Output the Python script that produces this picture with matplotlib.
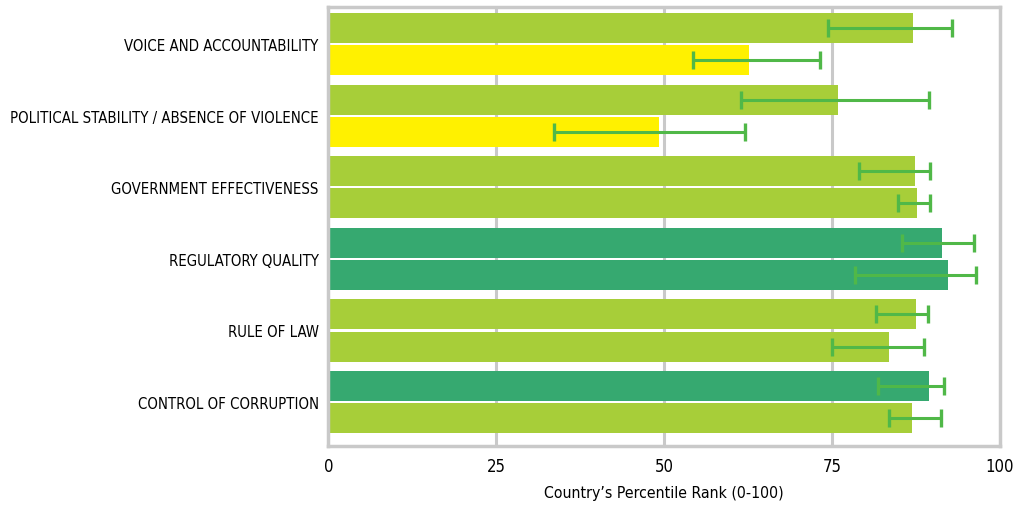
import numpy as np
import matplotlib
matplotlib.use('Agg')
import matplotlib.pyplot as plt

plt.rcParams['font.family'] = ['DejaVu Sans']
plt.rcParams['font.stretch'] = 'condensed'

categories = ['VOICE AND ACCOUNTABILITY', 'POLITICAL STABILITY / ABSENCE OF VIOLENCE',
              'GOVERNMENT EFFECTIVENESS', 'REGULATORY QUALITY', 'RULE OF LAW',
              'CONTROL OF CORRUPTION']

# upper bar of each pair
rank_a = [87.0, 75.9, 87.3, 91.4, 87.5, 89.4]
low_a = [74.4, 61.4, 79.0, 85.4, 81.5, 81.8]
high_a = [92.9, 89.4, 89.6, 96.1, 89.3, 91.7]
color_a = ['lime', 'lime', 'lime', 'green', 'lime', 'green']

# lower bar of each pair
rank_b = [62.6, 49.2, 87.6, 92.3, 83.5, 86.9]
low_b = [54.3, 33.6, 84.8, 78.4, 75.0, 83.5]
high_b = [73.2, 62.0, 89.6, 96.4, 88.7, 91.2]
color_b = ['yellow', 'yellow', 'lime', 'green', 'lime', 'lime']

xticks = [0, 25, 50, 75, 100]
xlabel = 'Country\u2019s Percentile Rank (0-100)'

palette = {'lime': '#A7CE39', 'yellow': '#FFF100', 'green': '#36A970'}
err_col = '#50B848'
frame_col = '#C9C9C9'

fig = plt.figure(figsize=(10.21, 5.06), dpi=100)
ax = fig.add_axes([0.3217, 0.1166, 0.9794 - 0.3217, 0.9842 - 0.1166])

y = np.arange(len(categories))
off = 0.225
h = 0.42

for vals, lo, hi, cols, sign in [(rank_a, low_a, high_a, color_a, -1),
                                 (rank_b, low_b, high_b, color_b, 1)]:
    yy = y + sign * off
    ax.barh(yy, vals, height=h, color=[palette[c] for c in cols], zorder=2)
    vals = np.array(vals)
    xerr = [vals - np.array(lo), np.array(hi) - vals]
    ax.errorbar(vals, yy, xerr=xerr, fmt='none', ecolor=err_col, elinewidth=2.2,
                capsize=6.5, capthick=2.4, zorder=3)

ax.set_xlim(0, 100)
ax.set_ylim(5.615, -0.52)
ax.set_xticks(xticks)
ax.set_xticklabels([str(t) for t in xticks], fontsize=12)
ax.set_yticks(y)
ax.set_yticklabels(categories, fontsize=10.7)
ax.tick_params(axis='x', length=0, pad=8)
ax.tick_params(axis='y', length=0, pad=7)
for t in [25, 50, 75]:
    ax.axvline(t, color=frame_col, lw=2.2, zorder=1)
for s in ax.spines.values():
    s.set_color(frame_col)
    s.set_linewidth(2.5)
ax.set_xlabel(xlabel, fontsize=11.3, labelpad=7)

fig.savefig('out.png', dpi=100)
